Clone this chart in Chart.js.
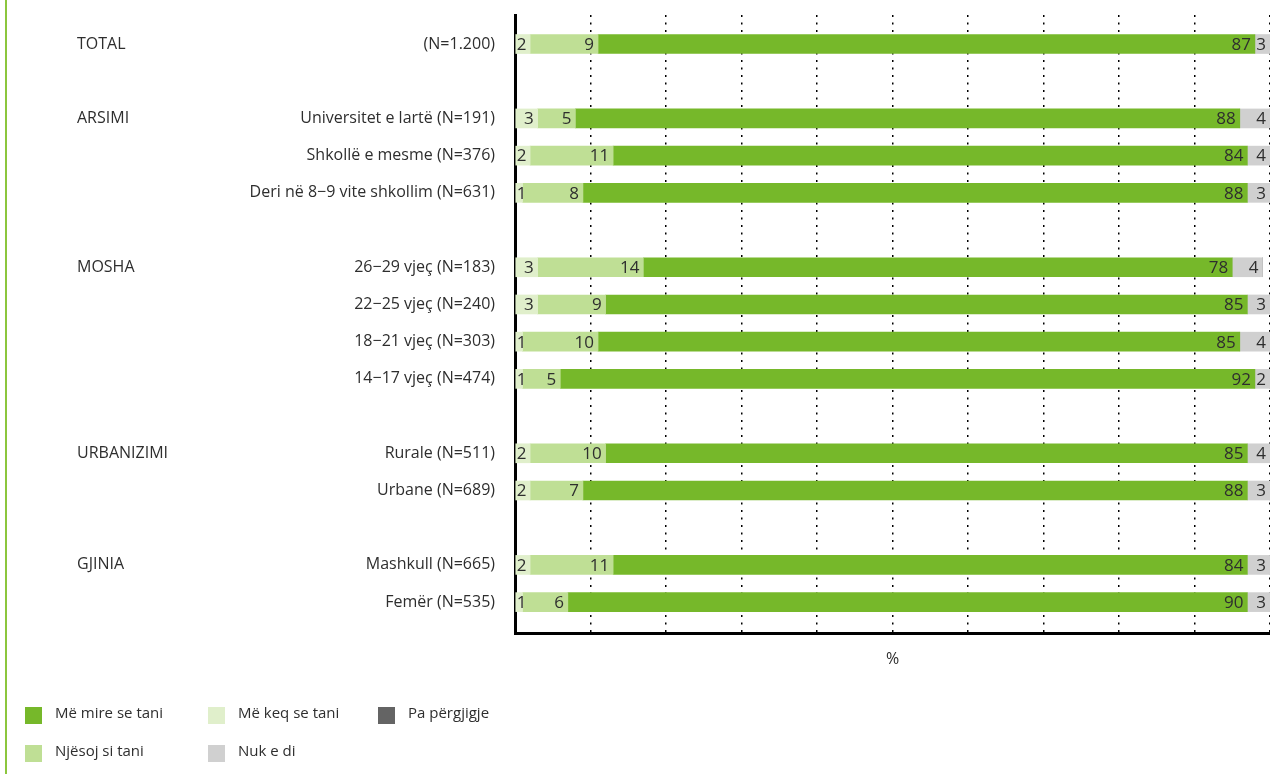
<!DOCTYPE html>
<html>
<head>
<meta charset="utf-8">
<script src="https://cdn.jsdelivr.net/npm/chart.js@4/dist/chart.umd.min.js"></script>
<style>
  html, body { margin: 0; padding: 0; background: #fff; }
  #wrap { position: relative; width: 1270px; height: 774px; overflow: hidden; }
  #edge { position: absolute; left: 5px; top: 0; width: 2px; height: 774px; background: #8cc63e; }
  canvas { position: absolute; left: 0; top: 0; }
</style>
</head>
<body>
<div id="wrap">
  <div id="edge"></div>
  <canvas id="chart" width="1270" height="774"></canvas>
</div>
<script>
// Rows (blank strings are spacer rows between groups)
const groupLabels = ['TOTAL', '', 'ARSIMI', '', '', '', 'MOSHA', '', '', '', '', 'URBANIZIMI', '', '', 'GJINIA', ''];
const rowLabels = [
  '(N=1.200)', '',
  'Universitet e lartë (N=191)', 'Shkollë e mesme (N=376)', 'Deri në 8\u22129 vite shkollim (N=631)', '',
  '26\u221229 vjeç (N=183)', '22\u221225 vjeç (N=240)', '18\u221221 vjeç (N=303)', '14\u221217 vjeç (N=474)', '',
  'Rurale (N=511)', 'Urbane (N=689)', '',
  'Mashkull (N=665)', 'Femër (N=535)'
];

// Series values (%), null on spacer rows
const worse    = [2, null, 3, 2, 1, null, 3, 3, 1, 1, null, 2, 2, null, 2, 1];
const same     = [9, null, 5, 11, 8, null, 14, 9, 10, 5, null, 10, 7, null, 11, 6];
const better   = [87, null, 88, 84, 88, null, 78, 85, 85, 92, null, 85, 88, null, 84, 90];
const dontKnow = [3, null, 4, 4, 3, null, 4, 3, 4, 2, null, 4, 3, null, 3, 3];
const noAnswer = [0, null, 0, 0, 0, null, 0, 0, 0, 0, null, 0, 0, null, 0, 0];

const xTicks = [0, 10, 20, 30, 40, 50, 60, 70, 80, 90, 100];

const series = [
  { label: 'Më keq se tani', values: worse,    color: '#e0efcb' },
  { label: 'Njësoj si tani', values: same,     color: '#bfdf95' },
  { label: 'Më mire se tani', values: better,  color: '#76b82a' },
  { label: 'Nuk e di',       values: dontKnow, color: '#d0d0d0' },
  { label: 'Pa përgjigje',   values: noAnswer, color: '#646464' }
];
// legend reading order (row by row, 3 per row)
const legendOrder = ['Më mire se tani', 'Më keq se tani', 'Pa përgjigje', 'Njësoj si tani', 'Nuk e di'];

const FONT = '"Open Sans", "Noto Sans", sans-serif';
const TEXT = '#2e2e2e';

const toPoints = (values) => values
  .map((v, i) => ({ x: v, y: i }))
  .filter(p => p.x !== null);

// Group headings on the far left
const groupLabelPlugin = {
  id: 'groupLabels',
  afterDraw(chart) {
    const { ctx } = chart;
    const yScale = chart.scales.y;
    ctx.save();
    ctx.font = '16px ' + FONT;
    ctx.fillStyle = TEXT;
    ctx.textAlign = 'left';
    ctx.textBaseline = 'middle';
    groupLabels.forEach((g, i) => {
      if (g) ctx.fillText(g, 77, yScale.getPixelForValue(i));
    });
    ctx.restore();
  }
};

// Values written inside each segment, right aligned
const valueLabelPlugin = {
  id: 'valueLabels',
  afterDatasetsDraw(chart) {
    const { ctx, chartArea } = chart;
    ctx.save();
    ctx.font = '17px ' + FONT;
    ctx.fillStyle = TEXT;
    ctx.textBaseline = 'middle';
    ctx.textAlign = 'left';
    chart.data.datasets.forEach((ds, di) => {
      const meta = chart.getDatasetMeta(di);
      meta.data.forEach((bar, j) => {
        const v = ds.data[j].x;
        if (!v) return;
        const txt = String(v);
        const w = ctx.measureText(txt).width;
        const end = Math.min(bar.x, chartArea.right);
        let left = end - 4 - w;
        if (left < bar.base + 1) left = bar.base + 1;
        ctx.fillText(txt, left, bar.y + 1);
      });
    });
    ctx.restore();
  }
};

// Legend grid at the bottom
const legendPlugin = {
  id: 'gridLegend',
  afterDraw(chart) {
    const { ctx } = chart;
    const colX = [25, 208, 378];
    const rowY = [716, 754];
    ctx.save();
    ctx.font = '15px ' + FONT;
    ctx.textBaseline = 'middle';
    legendOrder.forEach((name, k) => {
      const ds = chart.data.datasets.find(d => d.label === name);
      const x = colX[k % 3];
      const y = rowY[Math.floor(k / 3)];
      ctx.fillStyle = ds.backgroundColor;
      ctx.fillRect(x, y - 9, 17, 17);
      ctx.fillStyle = TEXT;
      ctx.fillText(name, x + 30, y - 2);
    });
    ctx.restore();
  }
};

new Chart(document.getElementById('chart'), {
  type: 'bar',
  data: {
    datasets: series.map(s => ({
      label: s.label,
      data: toPoints(s.values),
      backgroundColor: s.color,
      borderWidth: 0,
      barThickness: 19
    }))
  },
  options: {
    indexAxis: 'y',
    responsive: false,
    animation: false,
    layout: { padding: { top: 15, right: 0, bottom: 0, left: 0 } },
    plugins: {
      legend: { display: false },
      tooltip: { enabled: false }
    },
    scales: {
      x: {
        type: 'linear',
        stacked: true,
        min: 0,
        max: 100,
        z: 1,
        afterBuildTicks: (scale) => { scale.ticks = xTicks.map(v => ({ value: v })); },
        afterFit: (scale) => { scale.height = 141; },
        ticks: { display: false },
        grid: {
          color: (c) => (c.tick && c.tick.value > 0 ? '#000' : 'rgba(0,0,0,0)'),
          lineWidth: 1.5,
          drawTicks: false
        },
        border: { display: true, color: '#000', width: 3, dash: [2, 5.5] },
        title: {
          display: true,
          text: '%',
          color: TEXT,
          font: { family: FONT, size: 16 },
          padding: { top: 0, bottom: 105 }
        }
      },
      y: {
        type: 'linear',
        stacked: true,
        reverse: true,
        offset: false,
        min: -0.78,
        max: 15.83,
        z: 1,
        afterBuildTicks: (scale) => {
          scale.ticks = rowLabels.map((l, i) => ({ value: i })).filter(t => rowLabels[t.value]);
        },
        afterFit: (scale) => {
          scale.width = 515;
          // labels sit well inside the range, no extra room needed
          scale.paddingTop = 0;
          scale.paddingBottom = 0;
        },
        grid: { display: false, drawTicks: false },
        border: { display: true, color: '#000', width: 3 },
        ticks: {
          autoSkip: false,
          padding: 20,
          color: TEXT,
          font: { family: FONT, size: 16 },
          callback: (v) => rowLabels[v] || ''
        }
      }
    }
  },
  plugins: [groupLabelPlugin, valueLabelPlugin, legendPlugin]
});
</script>
</body>
</html>
